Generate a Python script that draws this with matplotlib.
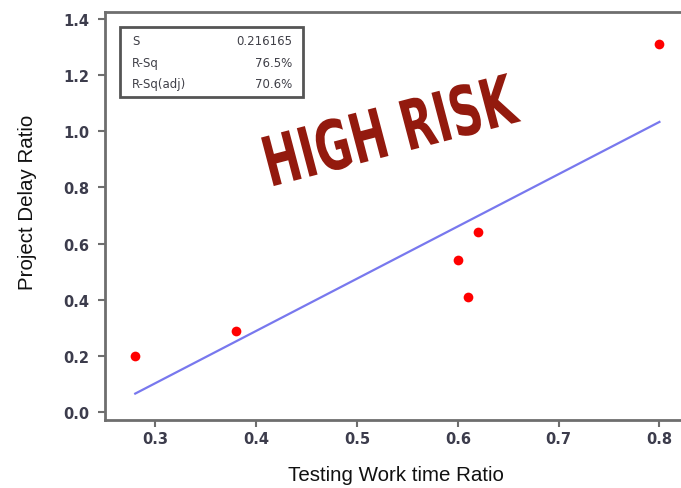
import numpy as np
import matplotlib
matplotlib.use("Agg")
import matplotlib.pyplot as plt
from matplotlib.textpath import TextPath
from matplotlib.patches import PathPatch, Rectangle
from matplotlib.font_manager import FontProperties
from matplotlib.transforms import Affine2D, IdentityTransform

# data
test_ratio = [0.28, 0.38, 0.60, 0.61, 0.62, 0.80]
delay_ratio = [0.20, 0.29, 0.54, 0.41, 0.64, 1.31]
x_ticks = [0.3, 0.4, 0.5, 0.6, 0.7, 0.8]
y_ticks = [0.0, 0.2, 0.4, 0.6, 0.8, 1.0, 1.2, 1.4]
stat_names = ["S", "R-Sq", "R-Sq(adj)"]
stat_values = ["0.216165", "76.5%", "70.6%"]

W, H = 681, 489
fig = plt.figure(figsize=(W / 100, H / 100), dpi=100)
fig.patch.set_facecolor("white")

# axes placed in pixel terms
left, right, top, bottom = 105, 681, 13, 421
ax = fig.add_axes([left / W, 1 - bottom / H, (right - left) / W, (bottom - top) / H])
ax.set_xlim(0.25, 0.8214)
ax.set_ylim(-0.0285, 1.425)

# fitted line
slope, icpt = np.polyfit(test_ratio, delay_ratio, 1)
xf = np.array([min(test_ratio), max(test_ratio)])
ax.plot(xf, slope * xf + icpt, color="#7878ee", lw=1.6, zorder=2)
ax.plot(test_ratio, delay_ratio, "o", color="#ff0000", ms=7, mec="none", zorder=3)

spine_c = "#6e6e6e"
for s in ["left", "bottom", "top"]:
    ax.spines[s].set_color(spine_c)
    ax.spines[s].set_linewidth(2)
ax.spines["right"].set_visible(False)

tick_c = "#3c3c4c"
ax.set_xticks(x_ticks)
ax.set_yticks(y_ticks)
ax.set_xticklabels([f"{v:.1f}" for v in x_ticks])
ax.set_yticklabels([f"{v:.1f}" for v in y_ticks])
ax.tick_params(direction="out", length=5, width=1.5, color=spine_c,
               labelsize=10.5, labelcolor=tick_c)
ax.tick_params(axis="x", pad=3)
ax.tick_params(axis="y", pad=6)
for lab in ax.get_xticklabels() + ax.get_yticklabels():
    lab.set_fontweight("bold")

fig.text(396 / W, 1 - 476 / H, "Testing Work time Ratio", ha="center", va="center",
         fontsize=14.8, family="Liberation Sans", color="#111111")
fig.text(28 / W, 1 - 202 / H, "Project Delay Ratio", ha="center", va="center",
         rotation=90, fontsize=14.8, family="Liberation Sans", color="#111111")

# stats box
bx0, bx1, by0, by1 = 120, 303, 28, 98
box = Rectangle((bx0, H - by1), bx1 - bx0, by1 - by0, transform=IdentityTransform(),
                fill=False, edgecolor="#555555", lw=2)
fig.add_artist(box)
for i, (nm, val) in enumerate(zip(stat_names, stat_values)):
    yy = 1 - (42 + 21.5 * i) / H
    fig.text(132 / W, yy, nm, ha="left", va="center", fontsize=8.5, color="#404048")
    fig.text(292 / W, yy, val, ha="right", va="center", fontsize=8.5, color="#404048")

# HIGH RISK stamp, squeezed bold text
tp = TextPath((0, 0), "HIGH RISK", size=68, prop=FontProperties(family="DejaVu Sans", weight="bold"))
ext = tp.get_extents()
tr = (Affine2D().translate(-ext.x0, -ext.y0)
      .scale(256 / ext.width, 52 / ext.height)
      .rotate_deg(14.7)
      .translate(274, H - 188))
stamp = PathPatch(tr.transform_path(tp), transform=IdentityTransform(),
                  facecolor="#931a0e", edgecolor="none")
fig.add_artist(stamp)

fig.savefig("out.png", dpi=100)
